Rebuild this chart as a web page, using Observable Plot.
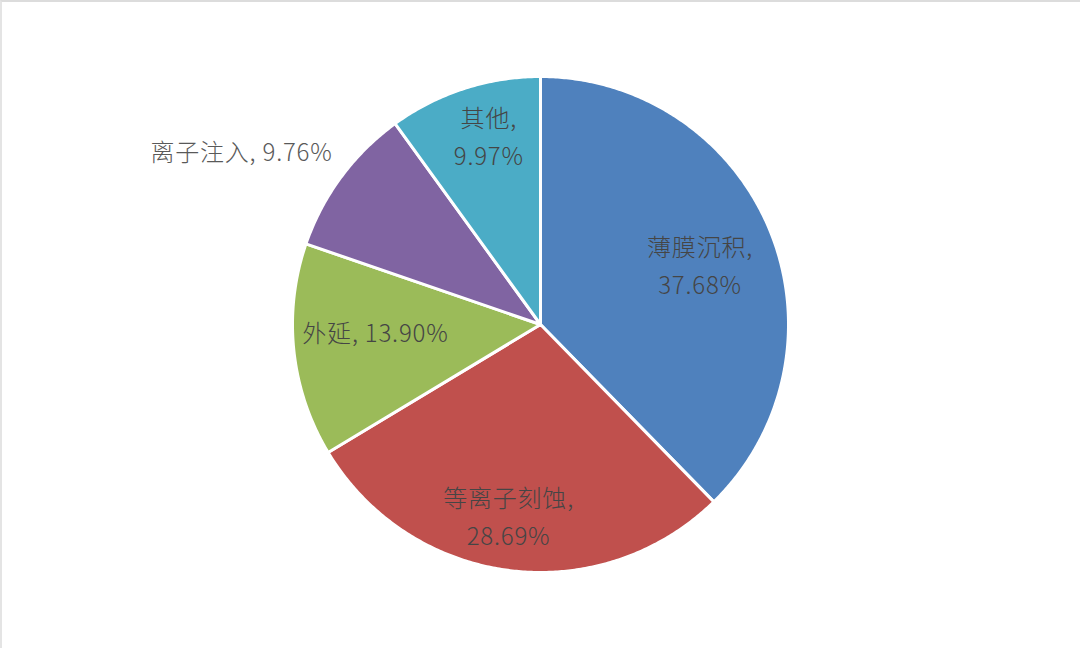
<!DOCTYPE html>
<html>
<head>
<meta charset="utf-8">
<script src="https://cdn.jsdelivr.net/npm/d3@7"></script>
<script src="https://cdn.jsdelivr.net/npm/@observablehq/plot@0.6"></script>
<style>
  html, body { margin: 0; padding: 0; background: #fff; }
  #wrap { position: relative; width: 1080px; height: 648px; overflow: hidden; }
  #frame { position: absolute; left: 0; top: 0; width: 1080px; height: 648px; box-sizing: border-box;
           border-top: 2px solid #dcdcdc; border-left: 2px solid #e4e4e4; pointer-events: none; }
</style>
</head>
<body>
<div id="wrap"><div id="frame"></div></div>
<script>
// Data (clockwise from 12 o'clock)
const categories = ["薄膜沉积", "等离子刻蚀", "外延", "离子注入", "其他"];
const shares = [37.68, 28.69, 13.90, 9.76, 9.97];
const labelTexts = ["薄膜沉积,\n37.68%", "等离子刻蚀,\n28.69%", "外延, 13.90%", "离子注入, 9.76%", "其他,\n9.97%"];

// Styling / layout
const colors = ["#4F81BD", "#C0504D", "#9BBB59", "#8064A2", "#4BACC6"];
const labelRadius = [0.69, 0.773, 0.666, 1.099, 0.798];
const labelAngleShift = [1.0, 2.3, 4.3, 3.74, 2.8]; // degrees, relative to slice mid-angle
const labelAnchor = ["middle", "middle", "middle", "end", "middle"];
const labelColor = ["#454545", "#454545", "#454545", "#595959", "#454545"];

const W = 1080, H = 648, R = 248;

const pie = d3.pie().sort(null).value(d => d)(shares);

// slice polygons in unit-radius coordinates (y up)
const pts = [];
pie.forEach((p, i) => {
  const name = categories[i];
  pts.push({name, x: 0, y: 0});
  const n = Math.max(2, Math.ceil((p.endAngle - p.startAngle) / (Math.PI / 360)));
  for (let k = 0; k <= n; k++) {
    const a = p.startAngle + (p.endAngle - p.startAngle) * k / n;
    pts.push({name, x: Math.sin(a), y: Math.cos(a)});
  }
  pts.push({name, x: 0, y: 0});
});

const labels = pie.map((p, i) => {
  const a = (p.startAngle + p.endAngle) / 2 + labelAngleShift[i] * Math.PI / 180;
  const r = labelRadius[i];
  return {name: categories[i], text: labelTexts[i], x: r * Math.sin(a), y: r * Math.cos(a), anchor: labelAnchor[i], color: labelColor[i]};
});

const xHalf = W / 2 / R, yHalf = H / 2 / R;

const chart = Plot.plot({
  width: W,
  height: H,
  margin: 0,
  style: {background: "transparent", fontFamily: "'Noto Sans CJK SC', sans-serif", letterSpacing: "0.8px"},
  x: {domain: [-xHalf, xHalf], axis: null},
  y: {domain: [-yHalf, yHalf], axis: null},
  color: {domain: categories, range: colors},
  marks: [
    Plot.line(pts, {x: "x", y: "y", z: "name", fill: "name", stroke: "white", strokeWidth: 3, strokeLinejoin: "miter", strokeMiterlimit: 4, curve: "linear"}),
    ...["middle", "end"].map(anc =>
      Plot.text(labels.filter(d => d.anchor === anc), {
        x: "x", y: "y", text: "text", textAnchor: anc, lineAnchor: "middle",
        fill: d => d.color, fontSize: 24, lineHeight: 1.6, fontWeight: 300,
        fontFamily: "'Noto Sans CJK SC', sans-serif"
      })
    )
  ]
});
document.getElementById("wrap").insertBefore(chart, document.getElementById("frame"));
</script>
</body>
</html>
